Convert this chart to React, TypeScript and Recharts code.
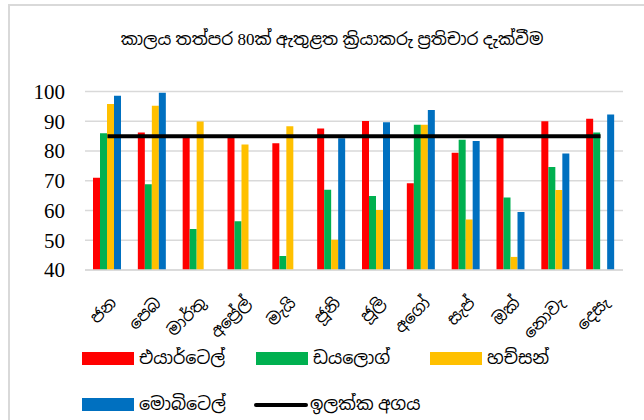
import { ComposedChart, Bar, Line, XAxis, YAxis, CartesianGrid } from "recharts";

const months = ["ජන", "පෙබ", "මාර්තු", "අප්‍රේල්", "මැයි", "ජූනි", "ජූලි", "අගෝ", "සැප්", "ඔක්", "නොවැ", "දෙසැ"];
const airtel = [71, 86.2, 85, 85, 82.6, 87.6, 90.1, 69.2, 79.4, 85, 90, 90.8];
const dialog = [86, 68.8, 53.8, 56.4, 44.7, 67, 64.9, 88.8, 83.8, 64.4, 74.6, 86.2];
const hutch = [95.8, 95.2, 89.9, 82.2, 88.3, 50.2, 60.2, 88.8, 57, 44.4, 66.9, 39.5];
const mobitel = [98.6, 99.6, null, null, null, 84.3, 89.7, 93.8, 83.4, 59.5, 79.2, 92.3];
const target = [85, 85, 85, 85, 85, 85, 85, 85, 85, 85, 85, 85];
const yTicks = [40, 50, 60, 70, 80, 90, 100];

const TITLE = "කාලය තත්පර 80ක් ඇතුළත ක්‍රියාකරු ප්‍රතිචාර දැක්වීම";
const SERIES = [
  { key: "airtel", name: "එයාර්ටෙල්", color: "#FF0000" },
  { key: "dialog", name: "ඩයලොග්", color: "#00B050" },
  { key: "hutch", name: "හච්සන්", color: "#FFC000" },
  { key: "mobitel", name: "මොබිටෙල්", color: "#0070C0" },
];
const TARGET_NAME = "ඉලක්ක අගය";

// serif first so digits look like the original, Sinhala falls through
const FONT = "'Liberation Serif', 'Noto Sans Sinhala', 'Iskoola Pota', serif";

const data = months.map((m, i) => ({
  month: m,
  airtel: airtel[i],
  dialog: dialog[i],
  hutch: hutch[i],
  mobitel: mobitel[i],
  target: target[i],
}));

function MonthTick({ x, y, payload }: any) {
  return (
    <g transform={`translate(${x + 10},${y + 26})`}>
      <text transform="rotate(-45)" textAnchor="end" fontSize={16.5} fontFamily={FONT} fill="#000">
        {payload.value}
      </text>
    </g>
  );
}

function LegendBox() {
  const pos = [
    { left: 82, top: 352 },
    { left: 256, top: 352 },
    { left: 430, top: 352 },
    { left: 82, top: 398 },
  ];
  return (
    <>
      {SERIES.map((s, i) => (
        <div key={s.key} style={{ position: "absolute", left: pos[i].left, top: pos[i].top, display: "flex", alignItems: "center" }}>
          <div style={{ width: 52, height: 13, background: s.color }} />
          <span style={{ marginLeft: 5, fontSize: 17.5, fontFamily: FONT, lineHeight: "13px" }}>{s.name}</span>
        </div>
      ))}
      <div style={{ position: "absolute", left: 254, top: 398, display: "flex", alignItems: "center" }}>
        <div style={{ width: 54, height: 4, borderRadius: 2, background: "#000", margin: "4.5px 0" }} />
        <span style={{ marginLeft: 2, fontSize: 17.5, fontFamily: FONT, lineHeight: "13px" }}>{TARGET_NAME}</span>
      </div>
    </>
  );
}

export default function App() {
  return (
    <div style={{ position: "fixed", left: 0, top: 0, width: 644, height: 420, overflow: "hidden", background: "#fff" }}>
      <div style={{ position: "absolute", left: 8, top: 4, width: 700, height: 500, borderLeft: "2px solid #d9d9d9", borderTop: "2px solid #d9d9d9" }} />
      <div style={{ position: "absolute", left: 0, width: 664, top: 28, textAlign: "center", fontSize: 17, fontFamily: FONT, color: "#000" }}>
        {TITLE}
      </div>
      <div style={{ position: "absolute", left: 0, top: 0 }}>
        <ComposedChart
          width={644}
          height={420}
          data={data}
          barGap={0}
          margin={{ top: 91.5, right: 21, left: 0, bottom: 90 }}
        >
          <CartesianGrid vertical={false} stroke="#d9d9d9" strokeWidth={1.5} />
          <XAxis
            dataKey="month"
            interval={0}
            tickLine={false}
            axisLine={{ stroke: "#d9d9d9", strokeWidth: 1.5 }}
            height={60}
            tick={<MonthTick />}
          />
          <YAxis
            domain={[40, 100]}
            ticks={yTicks}
            interval={0}
            allowDataOverflow
            width={85}
            axisLine={false}
            tickLine={false}
            tickSize={0}
            tickMargin={20}
            tick={{ fontSize: 21, fill: "#000", fontFamily: "'Liberation Serif', 'Times New Roman', serif" }}
          />
          {SERIES.map((s) => (
            <Bar key={s.key} dataKey={s.key} name={s.name} fill={s.color} barSize={7} isAnimationActive={false} />
          ))}
          <Line
            dataKey="target"
            name={TARGET_NAME}
            stroke="#000"
            strokeWidth={4}
            dot={false}
            activeDot={false}
            isAnimationActive={false}
          />
        </ComposedChart>
      </div>
      <LegendBox />
    </div>
  );
}
